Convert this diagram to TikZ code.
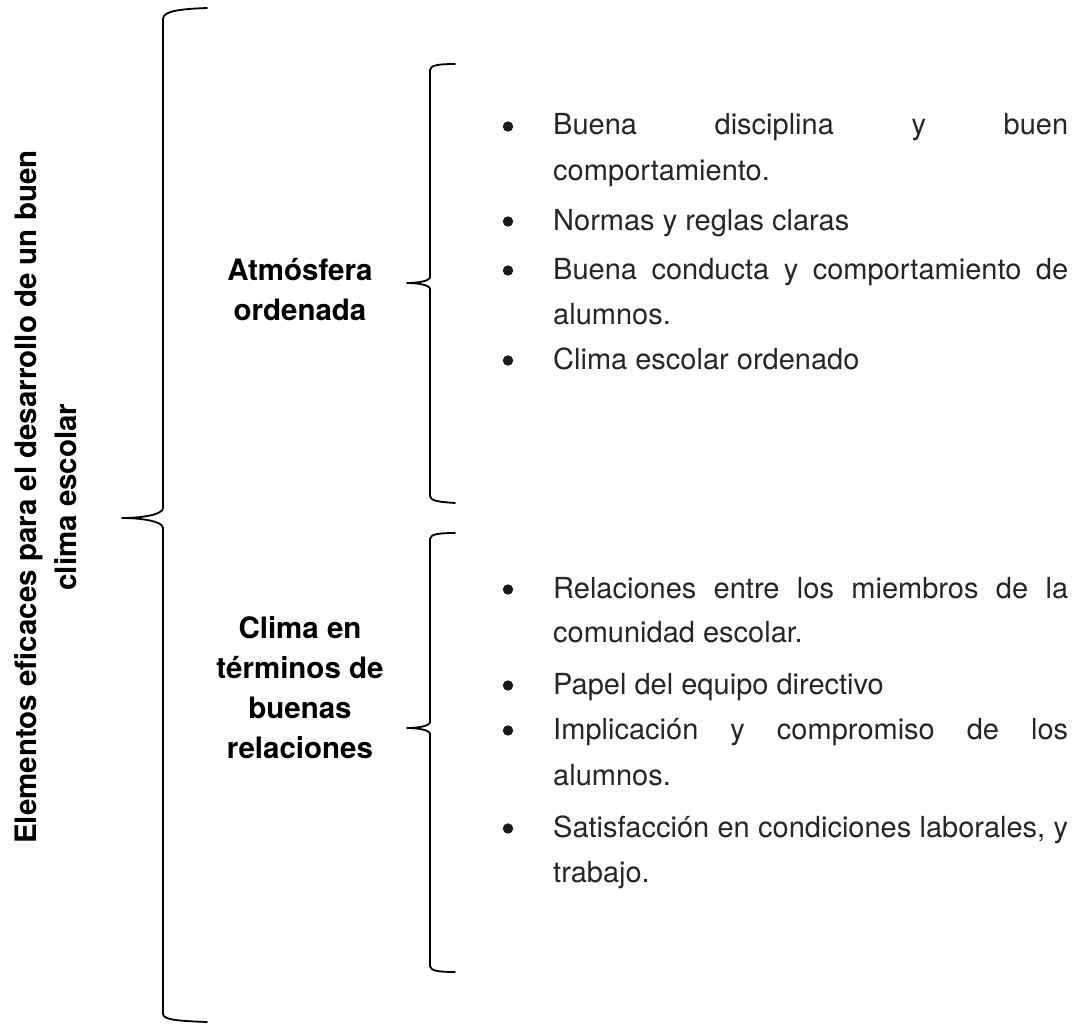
\documentclass[tikz,border=0pt]{standalone}
\usepackage{fontspec}
\setmainfont{TeX Gyre Heros}
\usepackage{tikz}

\tikzset{
  llave/.style={line width=1.8pt, line join=round, line cap=round},
  titulo/.style={font=\fontsize{29.5}{40}\selectfont\bfseries, align=center},
  item/.style={anchor=base west, inner sep=0pt, text=black!85, font=\fontsize{29}{34}\selectfont},
  punto/.style={fill=black!90}
}
\newcommand{\linea}[1]{\makebox[515pt][s]{#1}}

\begin{document}
\begin{tikzpicture}[x=1pt,y=-1pt]
\useasboundingbox (0,0) rectangle (1088,1025);
% llaves
\draw[llave] (207,8) .. controls (180,9) and (163,11) .. (163,19) -- (163,508)
  .. controls (163,515) and (140,518) .. (122,518)
  .. controls (140,518) and (163,521) .. (163,528) -- (163,1014)
  .. controls (163,1020) and (180,1021) .. (207,1022);
\draw[llave] (455,64) .. controls (440,64) and (430,65) .. (430,70) -- (430,277)
  .. controls (430,281) and (418,283) .. (407,283)
  .. controls (418,283) and (430,285) .. (430,289) -- (430,496)
  .. controls (430,501) and (440,502) .. (455,503);
\draw[llave] (455,533) .. controls (440,533) and (430,534) .. (430,539) -- (430,722)
  .. controls (430,726) and (418,728) .. (407,728)
  .. controls (418,728) and (430,730) .. (430,734) -- (430,966)
  .. controls (430,971) and (440,972) .. (455,972);

% titulos
\node[titulo, rotate=90] (general) at (46,497) {Elementos eficaces para el desarrollo de un buen\\clima escolar};
\node[titulo] (atmosfera) at (300,290) {Atmósfera\\ordenada};
\node[titulo] (relaciones) at (300,688) {Clima en\\términos de\\buenas\\relaciones};

% lista 1
\node[item] (a1) at (553,135) {\linea{Buena disciplina y buen}};
\node[item] (a1b) at (553,180) {comportamiento.};
\node[item] (a2) at (553,230) {Normas y reglas claras};
\node[item] (a3) at (553,279) {\linea{Buena conducta y comportamiento de}};
\node[item] (a3b) at (553,324) {alumnos.};
\node[item] (a4) at (553,369) {Clima escolar ordenado};
\foreach \y in {135,230,279,369}
  \fill[punto] (508,\y-8.5) circle (5.2);

% lista 2
\node[item] (b1) at (553,598) {\linea{Relaciones entre los miembros de la}};
\node[item] (b1b) at (553,642) {comunidad escolar.};
\node[item] (b2) at (553,694) {Papel del equipo directivo};
\node[item] (b3) at (553,739) {\linea{Implicación y compromiso de los}};
\node[item] (b3b) at (553,785) {alumnos.};
\node[item] (b4) at (553,837) {\linea{Satisfacción en condiciones laborales, y}};
\node[item] (b4b) at (553,882) {trabajo.};
\foreach \y in {598,694,739,837}
  \fill[punto] (508,\y-8.5) circle (5.2);
\end{tikzpicture}
\end{document}
